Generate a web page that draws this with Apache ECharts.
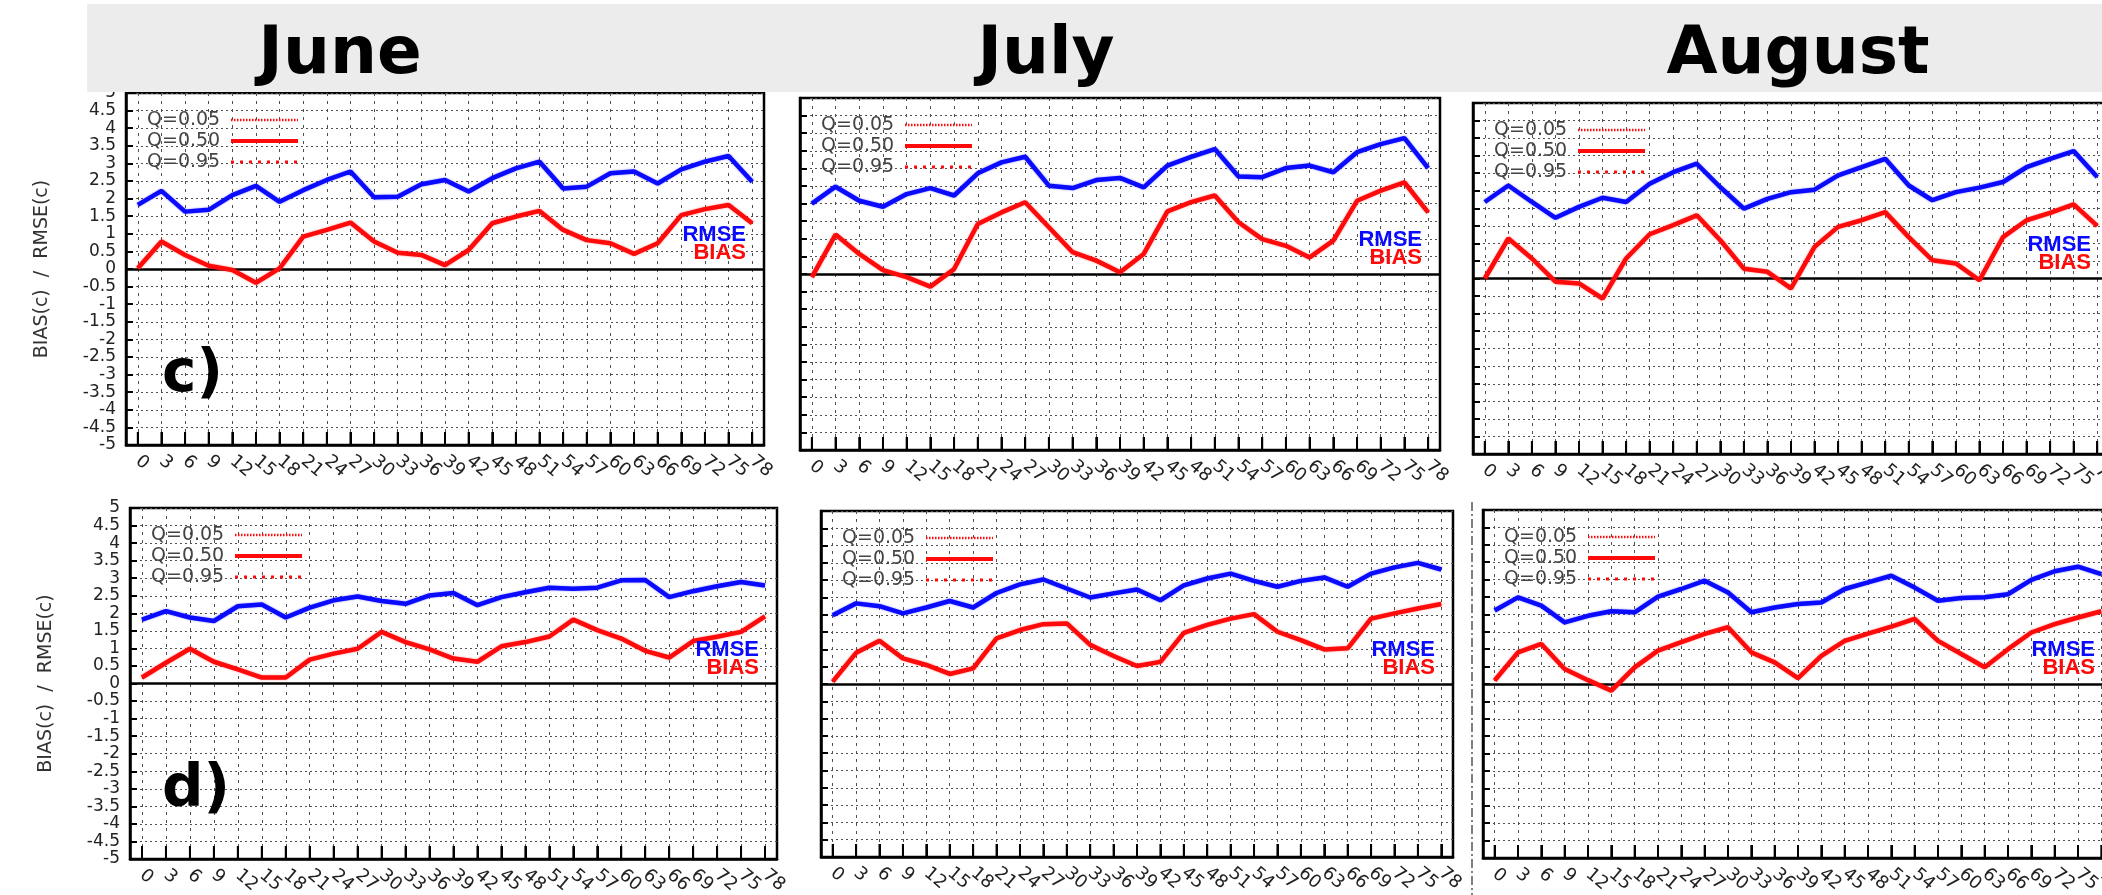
<!DOCTYPE html>
<html>
<head>
<meta charset="utf-8">
<script src="https://cdn.jsdelivr.net/npm/echarts@6.0.0/dist/echarts.min.js"></script>
<style>
  html, body { margin: 0; padding: 0; background: #fff; }
  #chart { width: 2102px; height: 895px; }
</style>
</head>
<body>
<div id="chart"></div>
<script>
// Forecast lead time (hours) on the x axis
const hours = ['0', '3', '6', '9', '12', '15', '18', '21', '24', '27', '30', '33', '36', '39', '42', '45', '48', '51', '54', '57', '60', '63', '66', '69', '72', '75', '78'];
const months = ['June', 'July', 'August'];
const yTicks = { min: -5, max: 5, step: 0.5 };

// Row c)
const juneRmseC = [1.82, 2.22, 1.63, 1.68, 2.10, 2.36, 1.91, 2.24, 2.53, 2.77, 2.04, 2.05, 2.41, 2.53, 2.20, 2.58, 2.86, 3.05, 2.29, 2.34, 2.72, 2.77, 2.43, 2.83, 3.05, 3.21, 2.48];
const juneBiasC = [0.02, 0.78, 0.40, 0.09, -0.03, -0.39, 0.02, 0.92, 1.11, 1.32, 0.78, 0.46, 0.40, 0.11, 0.54, 1.30, 1.49, 1.65, 1.11, 0.82, 0.73, 0.43, 0.73, 1.53, 1.70, 1.82, 1.30];
const julyRmseC = [2.00, 2.48, 2.08, 1.91, 2.27, 2.44, 2.23, 2.86, 3.17, 3.33, 2.51, 2.44, 2.67, 2.73, 2.46, 3.08, 3.33, 3.55, 2.77, 2.75, 3.01, 3.08, 2.89, 3.46, 3.69, 3.86, 3.01];
const julyBiasC = [-0.09, 1.12, 0.57, 0.11, -0.09, -0.36, 0.14, 1.42, 1.75, 2.04, 1.33, 0.62, 0.38, 0.05, 0.57, 1.78, 2.04, 2.23, 1.47, 0.99, 0.80, 0.47, 0.95, 2.08, 2.37, 2.60, 1.75];
const augRmseC = [2.18, 2.65, 2.18, 1.73, 2.04, 2.30, 2.18, 2.70, 3.03, 3.27, 2.60, 1.99, 2.27, 2.46, 2.53, 2.94, 3.17, 3.41, 2.65, 2.23, 2.46, 2.59, 2.75, 3.17, 3.41, 3.63, 2.89];
const augBiasC = [0.00, 1.14, 0.57, -0.09, -0.14, -0.57, 0.57, 1.26, 1.52, 1.80, 1.09, 0.28, 0.19, -0.28, 0.90, 1.47, 1.66, 1.89, 1.18, 0.52, 0.43, -0.05, 1.18, 1.66, 1.87, 2.11, 1.50];

// Row d)
const juneRmseD = [1.82, 2.06, 1.88, 1.78, 2.20, 2.25, 1.88, 2.16, 2.37, 2.48, 2.35, 2.27, 2.51, 2.58, 2.23, 2.46, 2.60, 2.73, 2.70, 2.73, 2.94, 2.95, 2.46, 2.63, 2.77, 2.89, 2.79];
const juneBiasD = [0.17, 0.59, 0.99, 0.62, 0.40, 0.17, 0.17, 0.68, 0.85, 0.99, 1.47, 1.18, 0.97, 0.71, 0.62, 1.06, 1.18, 1.34, 1.82, 1.52, 1.28, 0.93, 0.74, 1.21, 1.33, 1.47, 1.91];
const julyRmseD = [1.99, 2.33, 2.25, 2.04, 2.21, 2.40, 2.21, 2.63, 2.88, 3.02, 2.76, 2.50, 2.62, 2.73, 2.42, 2.85, 3.05, 3.19, 2.98, 2.81, 2.98, 3.08, 2.81, 3.19, 3.37, 3.50, 3.31];
const julyBiasD = [0.07, 0.90, 1.25, 0.74, 0.55, 0.29, 0.45, 1.32, 1.56, 1.73, 1.75, 1.13, 0.81, 0.52, 0.64, 1.48, 1.71, 1.89, 2.02, 1.51, 1.27, 1.00, 1.03, 1.89, 2.04, 2.18, 2.31];
const augRmseD = [2.11, 2.49, 2.25, 1.77, 1.96, 2.09, 2.06, 2.51, 2.73, 2.97, 2.63, 2.06, 2.20, 2.30, 2.34, 2.73, 2.92, 3.11, 2.77, 2.39, 2.47, 2.49, 2.58, 2.99, 3.24, 3.37, 3.16];
const augBiasD = [0.10, 0.91, 1.15, 0.43, 0.11, -0.19, 0.48, 0.96, 1.20, 1.44, 1.63, 0.91, 0.62, 0.17, 0.81, 1.24, 1.45, 1.65, 1.87, 1.24, 0.86, 0.48, 1.00, 1.48, 1.72, 1.91, 2.09];

const legendNames = ['Q=0.05', 'Q=0.50', 'Q=0.95'];
const seriesNames = ['RMSE', 'BIAS'];
const yTitle = 'BIAS(c)  /  RMSE(c)';

// Frame of every panel: [left, top, width, height] in pixels
const panels = [
  { rmse: juneRmseC, bias: juneBiasC, box: [126, 93, 638, 352], tag: 'c)', first: true },
  { rmse: julyRmseC, bias: julyBiasC, box: [800, 98, 640, 352] },
  { rmse: augRmseC, bias: augBiasC, box: [1473, 103, 636, 351] },
  { rmse: juneRmseD, bias: juneBiasD, box: [130, 508, 647, 351], tag: 'd)', first: true },
  { rmse: julyRmseD, bias: julyBiasD, box: [821, 511, 632, 346] },
  { rmse: augRmseD, bias: augBiasD, box: [1483, 510, 630, 348] }
];

const BLUE = '#0a0aff';
const RED = '#ff0a0a';
const GRIDLINE = '#505050';
const FRAME = { color: '#000', width: 2.5 };

const grids = [], xAxes = [], yAxes = [], series = [], graphics = [];

// Header band with month titles
graphics.push({ type: 'rect', z: 100, shape: { x: 87, y: 4, width: 2015, height: 88 }, style: { fill: '#ececec' } });
const titleX = [340, 1046, 1798];
months.forEach((m, k) => {
  graphics.push({ type: 'text', z: 101, style: { text: m, x: titleX[k], y: 56, textAlign: 'center', textVerticalAlign: 'middle', font: 'bold 66px "DejaVu Sans"', fill: '#000' } });
});

// Dash-dot separator in the lower row
graphics.push({ type: 'line', z: 5, shape: { x1: 1472, y1: 502, x2: 1472, y2: 895 }, style: { stroke: '#555', lineWidth: 1.5, lineDash: [9, 3, 2, 3] } });

panels.forEach((p, i) => {
  const [L, T, W, H] = p.box;
  grids.push({ left: L, top: T, width: W, height: H, show: true, borderColor: '#000', borderWidth: 2.5, backgroundColor: '#fff', containLabel: false, outerBoundsMode: 'none' });

  xAxes.push({
    type: 'category', gridIndex: i, data: hours, boundaryGap: true, position: 'bottom',
    axisLine: { show: true, onZero: false, lineStyle: FRAME },
    axisTick: { show: true, inside: true, length: 13, interval: 0, alignWithLabel: true, lineStyle: { color: '#000', width: 2 } },
    axisLabel: { show: true, interval: 0, rotate: -40, margin: 14, fontSize: 18, fontFamily: 'DejaVu Sans', color: '#222', hideOverlap: false },
    splitLine: { show: true, interval: 0, alignWithLabel: true, lineStyle: { color: GRIDLINE, width: 1, type: [3, 5] } }
  });

  yAxes.push({
    type: 'value', gridIndex: i, min: yTicks.min, max: yTicks.max, interval: yTicks.step,
    axisLine: { show: true, onZero: false, lineStyle: FRAME },
    axisTick: { show: true, inside: true, length: 7, lineStyle: { color: '#000', width: 2 } },
    axisLabel: { show: !!p.first, margin: 10, fontSize: 17, lineHeight: 16, fontFamily: 'DejaVu Sans', color: '#222', showMinLabel: true, showMaxLabel: true, hideOverlap: false },
    splitLine: { show: true, lineStyle: { color: GRIDLINE, width: 1, type: [2, 3] } },
    name: p.first ? yTitle : '',
    nameLocation: 'middle', nameGap: 74,
    nameTextStyle: { fontSize: 19, fontFamily: 'DejaVu Sans', color: '#333' }
  });

  series.push({
    name: seriesNames[0], type: 'line', xAxisIndex: i, yAxisIndex: i,
    data: p.rmse,
    symbol: 'none', z: 3,
    lineStyle: { color: BLUE, width: 4.5, shadowColor: 'rgba(10,10,255,0.5)', shadowBlur: 2 },
    markLine: {
      silent: true, symbol: 'none', z: 2,
      label: { show: false },
      lineStyle: { color: '#000', width: 2.5, type: 'solid' },
      data: [{ yAxis: 0 }]
    }
  });
  series.push({
    name: seriesNames[1], type: 'line', xAxisIndex: i, yAxisIndex: i,
    data: p.bias,
    symbol: 'none', z: 4,
    lineStyle: { color: RED, width: 4.5, shadowColor: 'rgba(255,10,10,0.5)', shadowBlur: 2 }
  });

  // Quantile key in the upper-left corner
  const styles = [
    { stroke: RED, lineWidth: 2.5, lineDash: [1.5, 1.5] },
    { stroke: RED, lineWidth: 4 },
    { stroke: RED, lineWidth: 3, lineDash: [3, 6] }
  ];
  legendNames.forEach((name, k) => {
    const y = T + 27 + k * 21;
    graphics.push({ type: 'text', z: 20, style: { text: name, x: L + 21, y: y, textAlign: 'left', textVerticalAlign: 'middle', font: '19px "DejaVu Sans"', fill: '#444' } });
    graphics.push({ type: 'line', z: 20, shape: { x1: L + 105, y1: y, x2: L + 172, y2: y }, style: styles[k] });
  });

  // Series names at the right of the zero line
  const zeroY = T + H / 2;
  graphics.push({ type: 'text', z: 20, style: { text: seriesNames[0], x: L + W - 18, y: zeroY - 34, textAlign: 'right', textVerticalAlign: 'middle', font: 'bold 22px "Liberation Sans"', fill: BLUE } });
  graphics.push({ type: 'text', z: 20, style: { text: seriesNames[1], x: L + W - 18, y: zeroY - 16, textAlign: 'right', textVerticalAlign: 'middle', font: 'bold 22px "Liberation Sans"', fill: RED } });

  if (p.tag) {
    graphics.push({ type: 'text', z: 20, style: { text: p.tag, x: 162, y: T + 283, textAlign: 'left', textVerticalAlign: 'middle', font: 'bold 58px "DejaVu Sans"', fill: '#000' } });
  }
});

const chart = echarts.init(document.getElementById('chart'), null, { renderer: 'canvas' });
chart.setOption({
  animation: false,
  backgroundColor: '#fff',
  grid: grids,
  xAxis: xAxes,
  yAxis: yAxes,
  series: series,
  graphic: { elements: graphics }
});

// Long inner tick marks along the bottom edge, placed with the axis scales
const combTicks = [];
panels.forEach((p, i) => {
  const yBottom = chart.convertToPixel({ yAxisIndex: i }, yTicks.min);
  hours.forEach((h, k) => {
    const x = chart.convertToPixel({ xAxisIndex: i }, k);
    combTicks.push({ type: 'line', z: 10, shape: { x1: x, y1: yBottom, x2: x, y2: yBottom - 13 }, style: { stroke: '#000', lineWidth: 2 } });
  });
});
chart.setOption({ graphic: { elements: graphics.concat(combTicks) } });
</script>
</body>
</html>
